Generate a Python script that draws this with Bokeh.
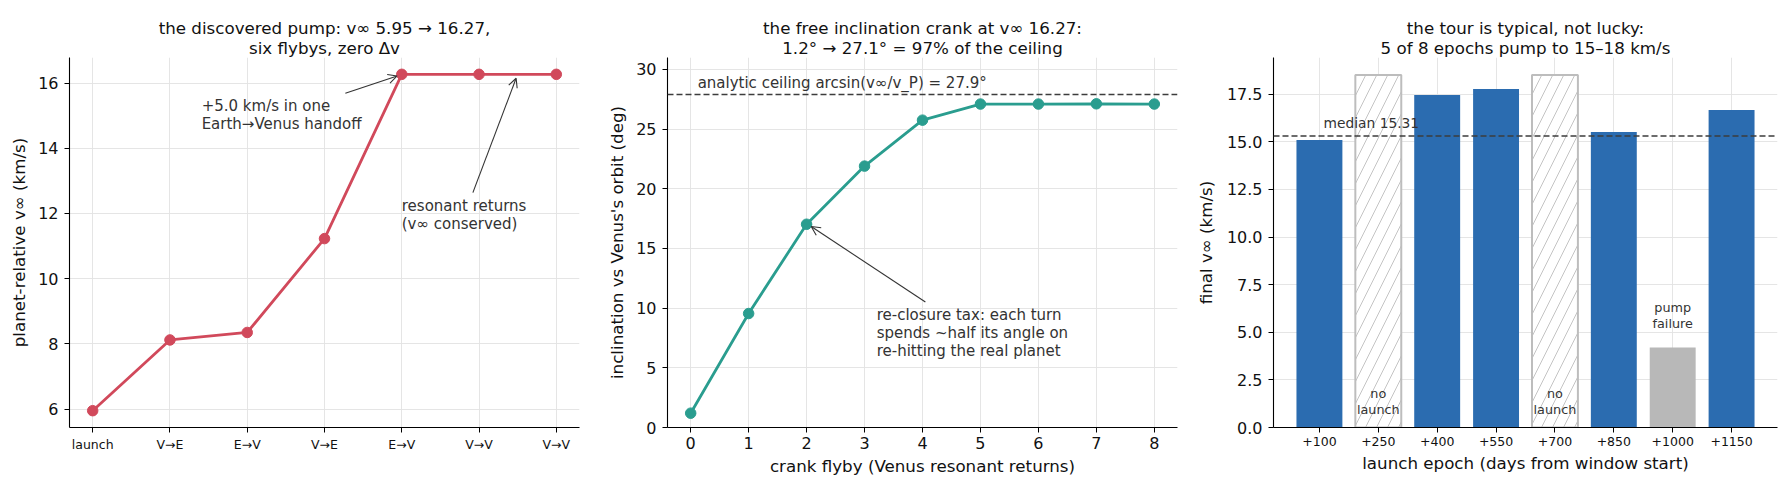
import numpy as np
from bokeh.plotting import figure
from bokeh.layouts import row, column
from bokeh.models import (ColumnDataSource, FixedTicker, Label, Arrow, OpenHead,
                          Span, Range1d, PrintfTickFormatter)
from bokeh.embed import file_html
from bokeh.resources import INLINE

# panel 1: the discovered pump
legs = ["launch", "V→E", "E→V", "V→E", "E→V", "V→V", "V→V"]
leg_vinf = [5.95, 8.12, 8.35, 11.23, 16.27, 16.27, 16.27]

# panel 2: the inclination crank
crank_flyby = [0, 1, 2, 3, 4, 5, 6, 7, 8]
crank_incl = [1.2, 9.55, 17.03, 21.9, 25.75, 27.1, 27.1, 27.12, 27.1]
ceiling_deg = 27.9

# panel 3: launch epoch sweep
epochs = ["+100", "+250", "+400", "+550", "+700", "+850", "+1000", "+1150"]
epoch_vinf = [15.1, 0.0, 17.45, 17.77, 0.0, 15.52, 4.2, 16.67]
epoch_status = ["ok", "none", "ok", "ok", "none", "ok", "fail", "ok"]
nolaunch_h = 18.5

FONT = "DejaVu Sans"
RED = "#d1495b"
TEAL = "#2a9d8f"
BLUE = "#2b6cb0"
INK = "#333333"
TOP = 57   # strip that holds the two-line title
H = 428


def title_strip(width, left, right, lines):
    # small empty figure whose frame is a pixel grid for the centred title lines
    t = figure(width=width, height=TOP, x_range=Range1d(0, 1), y_range=Range1d(0, TOP),
               output_backend="svg", toolbar_location=None, tools="",
               x_axis_location=None, y_axis_location=None,
               min_border_left=left, min_border_right=right,
               min_border_top=0, min_border_bottom=0)
    t.title = None
    t.grid.visible = False
    t.outline_line_color = None
    for txt, base in zip(lines, [TOP - 27.3, TOP - 47.3]):
        t.add_layout(Label(x=0.5, y=base, text=txt, text_align="center",
                           text_baseline="alphabetic", text_font=FONT,
                           text_font_size="16.7px", text_color="#111111"))
    return t


def make_fig(width, left, right, xr, yr):
    p = figure(width=width, height=H, x_range=xr, y_range=yr,
               output_backend="svg", toolbar_location=None, tools="",
               min_border_left=left, min_border_right=right,
               min_border_top=0, min_border_bottom=58)
    p.title = None
    p.outline_line_color = None
    p.background_fill_color = "white"
    for ax in (p.xaxis[0], p.yaxis[0]):
        ax.axis_line_color = "black"
        ax.axis_line_width = 1.1
        ax.major_tick_line_color = "black"
        ax.major_tick_out = 5
        ax.major_tick_in = 0
        ax.minor_tick_line_color = None
        ax.major_label_text_font = FONT
        ax.major_label_text_font_size = "16px"
        ax.major_label_text_color = "#111111"
        ax.axis_label_text_font = FONT
        ax.axis_label_text_font_size = "16.7px"
        ax.axis_label_text_font_style = "normal"
        ax.axis_label_text_color = "#111111"
    p.xaxis.major_label_standoff = 4
    p.xaxis.axis_label_standoff = 4
    p.yaxis.major_label_standoff = 6
    p.yaxis.axis_label_standoff = 6
    p.grid.grid_line_color = "#e2e2e2"
    p.grid.grid_line_width = 0.9
    return p


def note(p, x, y, lines, size="15px", align="left", step=18):
    for i, t in enumerate(lines):
        p.add_layout(Label(x=x, y=y, y_offset=-step * i, text=t, text_align=align,
                           text_baseline="middle", text_font=FONT,
                           text_font_size=size, text_color=INK))


def arrow(p, x0, y0, x1, y1):
    p.add_layout(Arrow(end=OpenHead(size=9, line_color=INK, line_width=1.1),
                       x_start=x0, y_start=y0, x_end=x1, y_end=y1,
                       line_color=INK, line_width=1.1))


# ---- panel 1
leg_x = list(range(len(legs)))
t1 = title_strip(599, 69, 20, ["the discovered pump: v∞ 5.95 → 16.27,", "six flybys, zero Δv"])
p1 = make_fig(599, 69, 20, Range1d(-0.3, 6.3), Range1d(5.434, 16.786))
src1 = ColumnDataSource(dict(x=leg_x, y=leg_vinf))
p1.line("x", "y", source=src1, line_color=RED, line_width=2.8)
p1.scatter("x", "y", source=src1, size=10.5, fill_color=RED, line_color=RED)
p1.xaxis.ticker = FixedTicker(ticks=leg_x)
p1.xaxis.major_label_overrides = {i: lab for i, lab in enumerate(legs)}
p1.xaxis.major_label_text_font_size = "12.5px"
p1.yaxis.ticker = FixedTicker(ticks=[6, 8, 10, 12, 14, 16])
p1.yaxis.axis_label = "planet-relative v∞ (km/s)"
note(p1, 1.41, 15.31, ["+5.0 km/s in one", "Earth→Venus handoff"])
arrow(p1, 3.27, 15.69, 3.94, 16.22)
note(p1, 4.0, 12.22, ["resonant returns", "(v∞ conserved)"])
arrow(p1, 4.92, 12.64, 5.48, 16.15)

# ---- panel 2
t2 = title_strip(593, 68, 15, ["the free inclination crank at v∞ 16.27:",
                               "1.2° → 27.1° = 97% of the ceiling"])
p2 = make_fig(593, 68, 15, Range1d(-0.4, 8.4), Range1d(0, 31))
src2 = ColumnDataSource(dict(x=crank_flyby, y=crank_incl))
p2.line("x", "y", source=src2, line_color=TEAL, line_width=2.8)
p2.scatter("x", "y", source=src2, size=10.5, fill_color=TEAL, line_color=TEAL)
p2.xaxis.ticker = FixedTicker(ticks=crank_flyby)
p2.yaxis.ticker = FixedTicker(ticks=[0, 5, 10, 15, 20, 25, 30])
p2.xaxis.axis_label = "crank flyby (Venus resonant returns)"
p2.yaxis.axis_label = "inclination vs Venus's orbit (deg)"
p2.add_layout(Span(location=ceiling_deg, dimension="width", line_dash="6 3",
                   line_color="#3c3c3c", line_width=1.5))
note(p2, 0.12, ceiling_deg + 1.0, ["analytic ceiling arcsin(v∞/v_P) = %.1f°" % ceiling_deg])
arrow(p2, 4.05, 10.51, 2.08, 16.84)
note(p2, 3.21, 9.45, ["re-closure tax: each turn", "spends ~half its angle on",
                      "re-hitting the real planet"])

# ---- panel 3
ep_x = list(range(len(epochs)))
median_v = float(np.median(epoch_vinf))
t3 = title_strip(593, 76, 8, ["the tour is typical, not lucky:",
                              "5 of 8 epochs pump to 15–18 km/s"])
p3 = make_fig(593, 76, 8, Range1d(-0.78, 7.78), Range1d(0, 19.425))
p3.yaxis.axis_label_standoff = 8
ok = [i for i, s in enumerate(epoch_status) if s == "ok"]
none = [i for i, s in enumerate(epoch_status) if s == "none"]
fail = [i for i, s in enumerate(epoch_status) if s == "fail"]
p3.vbar(x=ok, top=[epoch_vinf[i] for i in ok], width=0.78, fill_color=BLUE, line_color=None)
p3.vbar(x=fail, top=[epoch_vinf[i] for i in fail], width=0.78, fill_color="#b8b8b8", line_color=None)
p3.vbar(x=none, top=[nolaunch_h] * len(none), width=0.78, fill_color="white",
        line_color="#bdbdbd", line_width=2, hatch_pattern="/", hatch_color="#c4c4c4",
        hatch_scale=22, hatch_weight=1)
p3.add_layout(Span(location=median_v, dimension="width", line_dash="6 3",
                   line_color="#3c3c3c", line_width=1.5))
note(p3, 0.07, median_v + 0.68, ["median %.2f" % median_v], size="13.8px")
for i in none:
    note(p3, i, 1.8, ["no", "launch"], size="12.8px", align="center", step=16)
for i in fail:
    note(p3, i, epoch_vinf[i] + 2.11, ["pump", "failure"], size="12.8px", align="center", step=16)
p3.xaxis.ticker = FixedTicker(ticks=ep_x)
p3.xaxis.major_label_overrides = {i: lab for i, lab in enumerate(epochs)}
p3.xaxis.major_label_text_font_size = "12.5px"
p3.yaxis.ticker = FixedTicker(ticks=[0, 2.5, 5, 7.5, 10, 12.5, 15, 17.5])
p3.yaxis.formatter = PrintfTickFormatter(format="%.1f")
p3.xaxis.axis_label = "launch epoch (days from window start)"
p3.yaxis.axis_label = "final v∞ (km/s)"

layout = row(column(t1, p1), column(t2, p2), column(t3, p3))
open("out.html", "w").write(file_html(layout, INLINE))
